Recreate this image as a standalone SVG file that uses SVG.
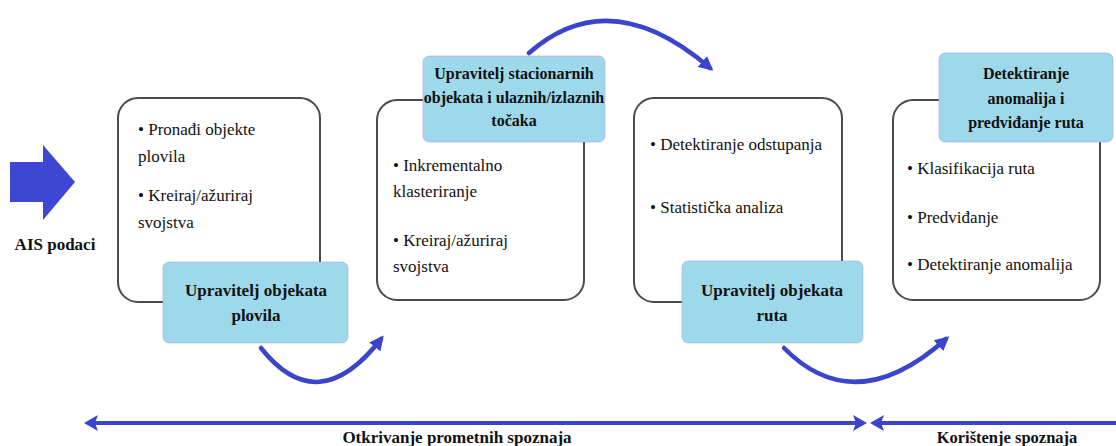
<svg xmlns="http://www.w3.org/2000/svg" width="1116" height="446" viewBox="0 0 1116 446">
<style>
.box{fill:#ffffff;stroke:#4a4a4a;stroke-width:2}
.lab{fill:#9ed9eb;stroke:#a3a8e8;stroke-width:0.6}
text{font-family:'Liberation Serif','Times New Roman','DejaVu Serif',serif}
.t{font-size:17px;fill:#111}
.b{font-weight:bold;font-size:17px;fill:#111;text-anchor:middle}
.bs{font-size:16px}
.arc{fill:none;stroke:#3a45cc;stroke-width:4.5;stroke-linecap:round}
.ln{fill:none;stroke:#3a45cc;stroke-width:4}
</style>
<defs>
<marker id="ah" viewBox="0 0 10 10" refX="7" refY="5" markerWidth="3.2" markerHeight="3.2" orient="auto" markerUnits="strokeWidth">
<path d="M0,0 L10,5 L0,10 z" fill="#3a45cc"/>
</marker>
</defs>

<g id="ais">
<path d="M10,162 L43,162 L43,145 L75,182 L43,220 L43,202 L10,202 z" fill="#3d47d3"/>
<text class="b" x="55" y="250">AIS podaci</text>
</g>

<g id="node1">
<rect class="box" x="118" y="98" width="202" height="204" rx="20"/>
<text class="t" x="138" y="135">• Pronađi objekte</text>
<text class="t" x="138" y="162">plovila</text>
<text class="t" x="138" y="201">• Kreiraj/ažuriraj</text>
<text class="t" x="138" y="228">svojstva</text>
<rect class="lab" x="163" y="262" width="185" height="81" rx="6"/>
<text class="b" x="256" y="296">Upravitelj objekata</text>
<text class="b" x="256" y="321">plovila</text>
</g>

<g id="node2">
<rect class="box" x="377" y="100" width="207" height="200" rx="20"/>
<text class="t" x="393" y="171">• Inkrementalno</text>
<text class="t" x="393" y="197">klasteriranje</text>
<text class="t" x="393" y="246">• Kreiraj/ažuriraj</text>
<text class="t" x="393" y="272">svojstva</text>
<rect class="lab" x="423" y="56" width="182" height="86" rx="6"/>
<text class="b bs" x="514" y="79">Upravitelj stacionarnih</text>
<text class="b bs" x="514" y="103">objekata i ulaznih/izlaznih</text>
<text class="b bs" x="514" y="126">točaka</text>
</g>

<g id="node3">
<rect class="box" x="634" y="98" width="208" height="204" rx="20"/>
<text class="t" x="650" y="150">• Detektiranje odstupanja</text>
<text class="t" x="650" y="213">• Statistička analiza</text>
<rect class="lab" x="682" y="261" width="181" height="82" rx="6"/>
<text class="b" x="772" y="296">Upravitelj objekata</text>
<text class="b" x="772" y="321">ruta</text>
</g>

<g id="node4">
<rect class="box" x="893" y="100" width="207" height="200" rx="20"/>
<text class="t" x="907" y="174">• Klasifikacija ruta</text>
<text class="t" x="907" y="223">• Predviđanje</text>
<text class="t" x="907" y="270">• Detektiranje anomalija</text>
<rect class="lab" x="939" y="53" width="174" height="89" rx="6"/>
<text class="b bs" x="1026" y="79">Detektiranje</text>
<text class="b bs" x="1026" y="104">anomalija i</text>
<text class="b bs" x="1026" y="128">predviđanje ruta</text>
</g>

<g id="connectors">
<path class="arc" d="M261,348 Q318,420 381,339" marker-end="url(#ah)"/>
<path class="arc" d="M529,53 Q610,-18 710,68" marker-end="url(#ah)"/>
<path class="arc" d="M784,348 Q855,420 946,339" marker-end="url(#ah)"/>
<line class="ln" x1="95" y1="423" x2="856" y2="423"/>
<path d="M84,423 L98,415 L95,423 L98,431 z" fill="#3a45cc"/>
<path d="M867,423 L853,415 L856,423 L853,431 z" fill="#3a45cc"/>
<line class="ln" x1="881" y1="423" x2="1116" y2="423"/>
<path d="M870,423 L884,415 L881,423 L884,431 z" fill="#3a45cc"/>
</g>

<g id="labels">
<text class="b" x="457" y="443">Otkrivanje prometnih spoznaja</text>
<text class="b" x="1007" y="443" style="font-size:16.5px">Korištenje spoznaja</text>
</g>
</svg>
